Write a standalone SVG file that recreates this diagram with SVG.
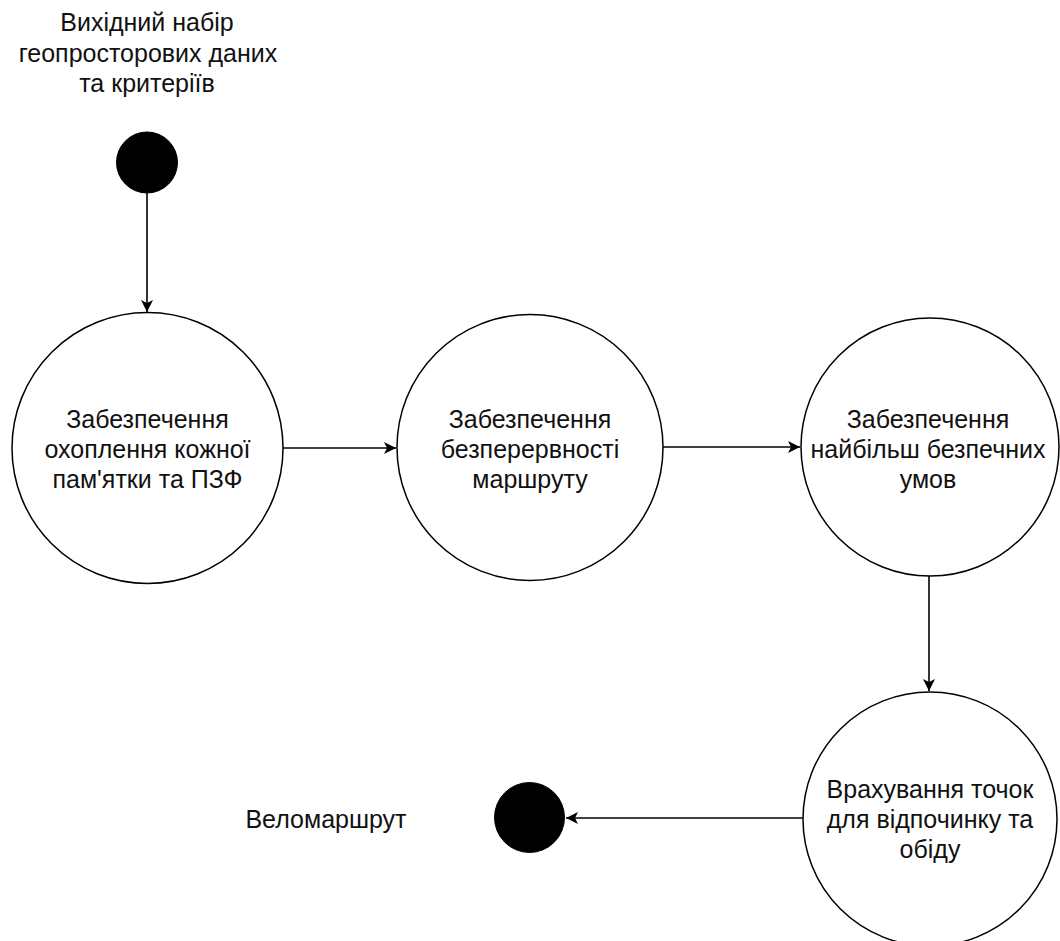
<svg xmlns="http://www.w3.org/2000/svg" width="1060" height="941" viewBox="0 0 1060 941">
<style>
.n{fill:#fff;stroke:#000;stroke-width:1.5}
.d{fill:#000;stroke:#000;stroke-width:1}
.t{font-family:"Liberation Sans",Arial,sans-serif;font-size:25px;fill:#111;text-anchor:middle}
.e{fill:none;stroke:#000;stroke-width:1.6}
</style>
<defs>
<marker id="ar" markerUnits="userSpaceOnUse" markerWidth="12" markerHeight="12" refX="12" refY="6" orient="auto">
<path d="M0,0 L12,6 L0,12 L3,6 z" fill="#000"/>
</marker>
</defs>
<rect width="1060" height="941" fill="#fff"/>
<g id="start">
<circle class="d" cx="147" cy="162.5" r="30.5"/>
<text class="t" x="147" y="31">Вихідний набір</text>
<text class="t" x="148" y="62">геопросторових даних</text>
<text class="t" x="147" y="92">та критеріїв</text>
</g>
<g id="n1">
<circle class="n" cx="147.5" cy="448" r="135.5"/>
<text class="t" x="147.5" y="428">Забезпечення</text>
<text class="t" x="147.5" y="458">охоплення кожної</text>
<text class="t" x="147.5" y="488">пам'ятки та ПЗФ</text>
</g>
<g id="n2">
<circle class="n" cx="530" cy="447.5" r="133"/>
<text class="t" x="530" y="428">Забезпечення</text>
<text class="t" x="530" y="458">безперервності</text>
<text class="t" x="530" y="488">маршруту</text>
</g>
<g id="n3">
<circle class="n" cx="930" cy="447" r="129"/>
<text class="t" x="928" y="428">Забезпечення</text>
<text class="t" x="928" y="458">найбільш безпечних</text>
<text class="t" x="928" y="488">умов</text>
</g>
<g id="n4">
<circle class="n" cx="930" cy="819" r="127"/>
<text class="t" x="930" y="798">Врахування точок</text>
<text class="t" x="930" y="828">для відпочинку та</text>
<text class="t" x="930" y="858">обіду</text>
</g>
<g id="end">
<circle class="d" cx="529.5" cy="817.5" r="35"/>
<text class="t" x="326" y="828">Веломаршрут</text>
</g>
<g id="connectors">
<path class="e" d="M147,193 L147,312" marker-end="url(#ar)"/>
<path class="e" d="M283,448 L396,448" marker-end="url(#ar)"/>
<path class="e" d="M663,447 L800,447" marker-end="url(#ar)"/>
<path class="e" d="M929,576 L929,691" marker-end="url(#ar)"/>
<path class="e" d="M803,818 L566,818" marker-end="url(#ar)"/>
</g>
</svg>
